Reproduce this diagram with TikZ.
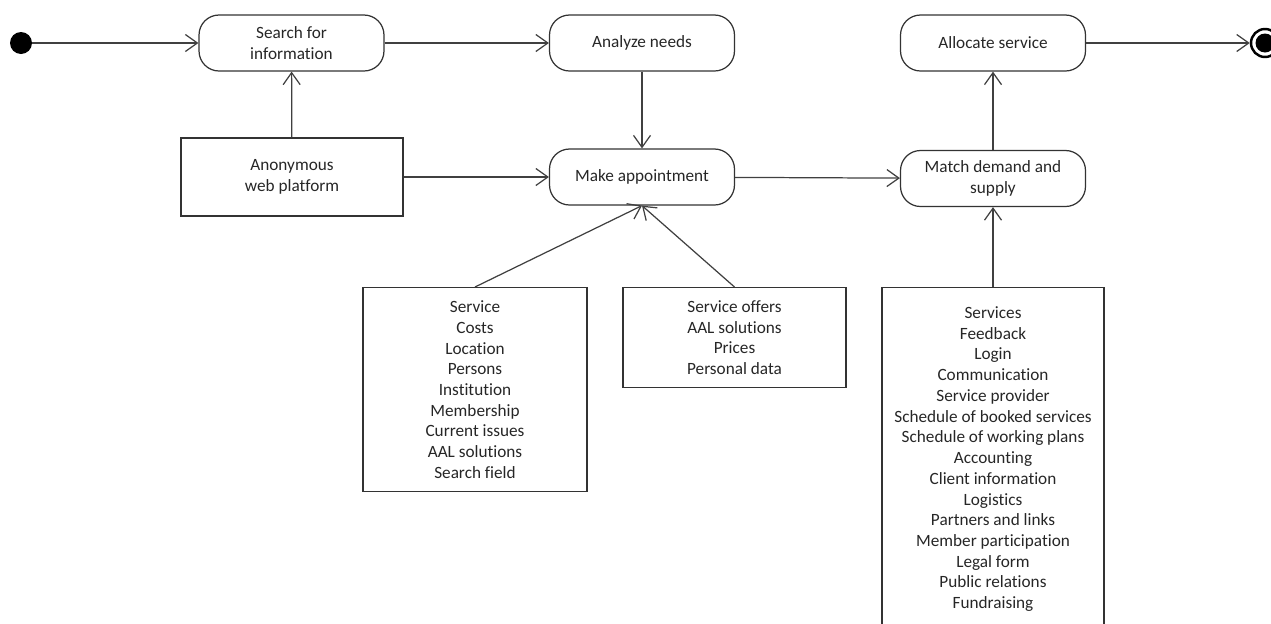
\documentclass[tikz,border=0pt]{standalone}
\usepackage{fontspec}
\setmainfont{Carlito}[Ligatures={NoCommon}]
\usetikzlibrary{arrows.meta}

\begin{document}
\begin{tikzpicture}[x=0.02cm, y=-0.02cm,
  font=\fontsize{9.8}{11.8}\selectfont, text=black!85,
  act/.style={draw=black!80, line width=0.7pt, rounded corners=0.4cm, minimum width=3.7cm, minimum height=1.12cm, align=center, inner sep=2pt},
  info/.style={draw=black!80, line width=0.7pt, align=center, minimum width=#1, inner sep=3pt},
  arr/.style={-{Straight Barb[length=0.24cm, width=0.34cm]}, line width=0.7pt, draw=black!75}]

\useasboundingbox (0,0) rectangle (1271,623);

% ---- initial and final states
\node[circle, fill=black, minimum size=0.44cm, inner sep=0pt] (start) at (21,43) {};
\node[circle, draw=black, line width=1.4pt, minimum size=0.56cm, inner sep=0pt,
  path picture={\fill[black] (path picture bounding box.center) circle (0.19cm);}] (stop) at (1265,43) {};

% ---- activities
\node[act] (search) at (291.5,43) {Search for\\ information};
\node[act] (analyze) at (642,43) {Analyze needs};
\node[act] (alloc) at (993,43) {Allocate service};
\node[act] (appt) at (642,177) {Make appointment};
\node[act] (match) at (993,178.5) {Match demand and\\ supply};

% ---- information boxes
\node[info=4.44cm, minimum height=1.56cm] (anon) at (292,177) {Anonymous\\ web platform};
\node[info=4.48cm, minimum height=4.08cm, anchor=north] (items) at (475,287)
  {Service\\ Costs\\ Location\\ Persons\\ Institution\\ Membership\\ Current issues\\ AAL solutions\\ Search field};
\node[info=4.46cm, minimum height=2.0cm, anchor=north] (offers) at (734.5,287)
  {Service offers\\ AAL solutions\\ Prices\\ Personal data};
\node[info=4.44cm, inner ysep=10.8pt, anchor=north] (data) at (993,287)
  {Services\\ Feedback\\ Login\\ Communication\\ Service provider\\ Schedule of booked services\\ Schedule of working plans\\ Accounting\\ Client information\\ Logistics\\ Partners and links\\ Member participation\\ Legal form\\ Public relations\\ Fundraising};

% ---- flows
\draw[arr] (start) -- (search);
\draw[arr] (search) -- (analyze);
\draw[arr] (alloc) -- (stop);
\draw[arr] (anon) -- (search);
\draw[arr] (analyze) -- (appt);
\draw[arr] (anon) -- (appt);
\draw[arr] (appt) -- (match);
\draw[arr] (items.north) -- (appt.south);
\draw[arr] (offers.north) -- (appt.south);
\draw[arr] (data) -- (match);
\draw[arr] (match) -- (alloc);
\end{tikzpicture}
\end{document}
